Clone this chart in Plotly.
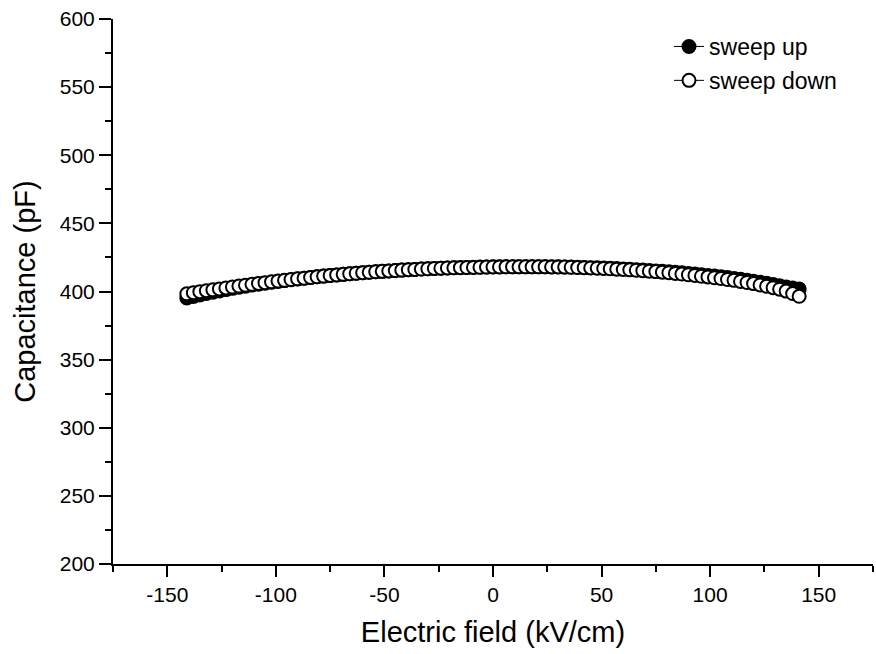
import plotly.graph_objects as go

# Electric field (kV/cm)
field = [-141, -138, -135, -132, -129, -126, -123, -120, -117, -114, -111, -108, -105, -102,
         -99, -96, -93, -90, -87, -84, -81, -78, -75, -72, -69, -66, -63, -60, -57, -54,
         -51, -48, -45, -42, -39, -36, -33, -30, -27, -24, -21, -18, -15, -12, -9, -6, -3,
         0, 3, 6, 9, 12, 15, 18, 21, 24, 27, 30, 33, 36, 39, 42, 45, 48, 51, 54, 57, 60,
         63, 66, 69, 72, 75, 78, 81, 84, 87, 90, 93, 96, 99, 102, 105, 108, 111, 114, 117,
         120, 123, 126, 129, 132, 135, 138, 141]

# Capacitance (pF), sweep up (filled circles)
cap_up = [395.3, 396.4, 397.5, 398.5, 399.5, 400.4, 401.4, 402.3, 403.1, 403.9, 404.7, 405.4,
          406.1, 406.8, 407.4, 408.0, 408.6, 409.2, 409.7, 410.3, 410.8, 411.3, 411.8, 412.2,
          412.6, 413.0, 413.4, 413.8, 414.1, 414.5, 414.8, 415.1, 415.4, 415.7, 416.0, 416.2,
          416.5, 416.7, 416.9, 417.1, 417.3, 417.5, 417.6, 417.7, 417.8, 417.9, 418.0, 418.1,
          418.1, 418.2, 418.2, 418.2, 418.2, 418.2, 418.2, 418.2, 418.1, 418.1, 418.0, 417.9,
          417.8, 417.7, 417.5, 417.4, 417.2, 417.0, 416.8, 416.6, 416.3, 416.0, 415.8, 415.5,
          415.1, 414.8, 414.5, 414.1, 413.7, 413.2, 412.8, 412.3, 411.8, 411.3, 410.8, 410.2,
          409.6, 409.0, 408.3, 407.5, 406.8, 406.0, 405.1, 404.2, 403.3, 402.5, 401.8]

# Capacitance (pF), sweep down (open circles)
cap_down = [398.3, 399.1, 399.9, 400.6, 401.2, 401.9, 402.6, 403.3, 404.0, 404.6, 405.3, 405.9,
            406.5, 407.1, 407.7, 408.2, 408.8, 409.3, 409.8, 410.3, 410.8, 411.3, 411.8, 412.2,
            412.6, 413.0, 413.4, 413.8, 414.1, 414.5, 414.8, 415.1, 415.4, 415.7, 416.0, 416.2,
            416.5, 416.7, 416.9, 417.1, 417.3, 417.4, 417.5, 417.6, 417.7, 417.8, 417.9, 418.0,
            418.0, 418.1, 418.1, 418.1, 418.1, 418.1, 418.1, 418.1, 418.0, 418.0, 417.9, 417.8,
            417.6, 417.5, 417.3, 417.1, 416.9, 416.7, 416.4, 416.2, 415.9, 415.6, 415.3, 414.9,
            414.6, 414.2, 413.8, 413.3, 412.8, 412.3, 411.8, 411.2, 410.7, 410.1, 409.5, 408.8,
            408.2, 407.4, 406.6, 405.8, 404.8, 403.8, 402.8, 401.7, 400.3, 398.5, 396.5]

x_ticks = [-150, -100, -50, 0, 50, 100, 150]
x_labels = ["-150", "-100", "-50", "0", "50", "100", "150"]
y_ticks = [200, 250, 300, 350, 400, 450, 500, 550, 600]
y_labels = ["200", "250", "300", "350", "400", "450", "500", "550", "600"]

FONT = "Liberation Sans, Arial, sans-serif"

fig = go.Figure()
fig.add_trace(go.Scatter(
    x=field, y=cap_up, mode="lines+markers", name="sweep up", legendgroup="up",
    line=dict(color="black", width=1),
    marker=dict(symbol="circle", size=13, color="black", line=dict(color="black", width=2)),
))
fig.add_trace(go.Scatter(
    x=field, y=cap_down, mode="lines+markers", name="sweep down", legendgroup="down",
    line=dict(color="black", width=1),
    marker=dict(symbol="circle", size=13, color="white", line=dict(color="black", width=2)),
))

fig.update_layout(
    width=876, height=654,
    margin=dict(l=113, r=3, t=19, b=90, autoexpand=False),
    paper_bgcolor="white", plot_bgcolor="white",
    font=dict(family=FONT, color="black"),
    showlegend=True,
    legend=dict(font=dict(family=FONT, size=23, color="black"),
                bgcolor="rgba(0,0,0,0)", xanchor="left", yanchor="top",
                x=0.7316, y=0.989, tracegroupgap=1),
    xaxis=dict(
        range=[-175, 175], tickvals=x_ticks, ticktext=x_labels,
        showline=True, linecolor="black", linewidth=2, mirror=False,
        ticks="outside", ticklen=11, tickwidth=2, tickcolor="black",
        minor=dict(dtick=25, tick0=-175, ticks="outside", ticklen=6, tickwidth=2, tickcolor="black"),
        showgrid=False, zeroline=False,
        tickfont=dict(family=FONT, size=21, color="black"),
        title=dict(text="Electric field (kV/cm)", font=dict(family=FONT, size=29, color="black"), standoff=16),
    ),
    yaxis=dict(
        range=[200, 600], tickvals=y_ticks, ticktext=y_labels,
        showline=True, linecolor="black", linewidth=2, mirror=False,
        ticks="outside", ticklen=12, tickwidth=2, tickcolor="black",
        minor=dict(dtick=25, tick0=200, ticks="outside", ticklen=6, tickwidth=2, tickcolor="black"),
        showgrid=False, zeroline=False,
        tickfont=dict(family=FONT, size=21, color="black"),
        title=dict(text="Capacitance (pF)", font=dict(family=FONT, size=29, color="black"), standoff=16),
    ),
)

fig.write_html("out.html", config={"displayModeBar": False},
               post_script="document.body.style.margin='0';")
